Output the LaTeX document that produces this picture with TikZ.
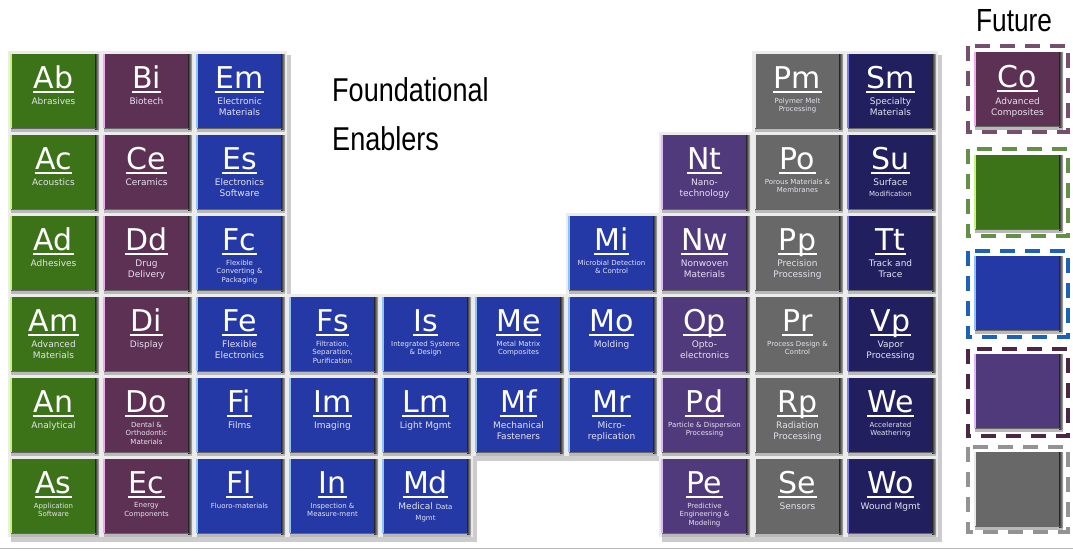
\documentclass[tikz,border=0pt]{standalone}
\usepackage{fontspec}
\usepackage{tikz}
\usetikzlibrary{calc}
\newfontfamily\tilefont{DejaVu Sans}
\newfontfamily\headfont{Liberation Sans}[FakeStretch=0.82]

\definecolor{grn}{HTML}{3D7318}  \definecolor{grnL}{HTML}{C8F27E}
\definecolor{mar}{HTML}{5D3154}  \definecolor{marL}{HTML}{F2A8EC}
\definecolor{blu}{HTML}{2439A6}  \definecolor{bluL}{HTML}{8CC4F6}
\definecolor{vio}{HTML}{503A7C}  \definecolor{vioL}{HTML}{DCB8F6}
\definecolor{gry}{HTML}{686868}  \definecolor{gryL}{HTML}{E8E8E8}
\definecolor{nav}{HTML}{211F5E}  \definecolor{navL}{HTML}{7C7CE6}
\definecolor{subtxt}{HTML}{E4E2EE}

% underlined element symbol
\newcommand\ulsym[1]{\vtop{\hbox{\kern0.5pt\smash{#1}\kern0.5pt}\kern2.5pt\hrule height 2pt}}
% bevelled face: x, y, colour
\newcommand\face[3]{%
  \fill[gray!55] ({#1+1},{#2+3}) rectangle ({#1+89},{#2+79.5});
  \shade[left color=black!85,right color=gray!55] ({#1+85},{#2+2}) rectangle ({#1+89},{#2+77});
  \fill[#3] ({#1+2},{#2+2}) rectangle ({#1+85},{#2+76});
  \fill[#3L] (#1,{#2+2}) rectangle ({#1+2},{#2+76});
  \fill[black!60] ({#1+1},{#2+76}) rectangle ({#1+86},{#2+77});
}
% tile on the tray: x, y, colour, symbol, subtitle style, subtitle
\newcommand\elem[6]{%
  \fill[gray!40] ({#1+1},{#2+3}) rectangle ({#1+95},{#2+85});
  \fill[gray!15] ({#1-2},{#2-1}) rectangle ({#1+91},{#2+80});
  \face{#1}{#2}{#3}
  \node[symb] (#4) at ({#1+43.5},{#2+36}) {\ulsym{#4}};
  \node[#5] (#4-t) at ({#1+43.5},{#2+44}) {#6};
}

\begin{document}
\begin{tikzpicture}[x=1pt,y=-1pt,
  symb/.style={font=\tilefont\fontsize{30}{30}\selectfont, text=white, inner sep=0pt, anchor=base},
  sub/.style={font=\tilefont\fontsize{9}{11}\selectfont, text=subtxt, inner sep=0pt, anchor=north, align=center, yshift=-1.5pt},
  subs/.style={sub, font=\tilefont\fontsize{7}{8.5}\selectfont, yshift=0pt},
  head/.style={font=\headfont\fontsize{33}{33}\selectfont, inner sep=0pt, anchor=base west},
  futbox/.style={line width=4pt, dash pattern=on 15pt off 10pt}]
\useasboundingbox (0,0) rectangle (1073,550);

% column 1-3
\elem{10}{52}{grn}{Ab}{sub}{Abrasives}
\elem{10}{133}{grn}{Ac}{sub}{Acoustics}
\elem{10}{214}{grn}{Ad}{sub}{Adhesives}
\elem{10}{295}{grn}{Am}{sub}{Advanced\\Materials}
\elem{10}{376}{grn}{An}{sub}{Analytical}
\elem{10}{457}{grn}{As}{subs}{Application\\Software}
\elem{103}{52}{mar}{Bi}{sub}{Biotech}
\elem{103}{133}{mar}{Ce}{sub}{Ceramics}
\elem{103}{214}{mar}{Dd}{sub}{Drug\\Delivery}
\elem{103}{295}{mar}{Di}{sub}{Display}
\elem{103}{376}{mar}{Do}{subs}{Dental \&\\Orthodontic\\Materials}
\elem{103}{457}{mar}{Ec}{subs}{Energy\\Components}
\elem{196}{52}{blu}{Em}{sub}{Electronic\\Materials}
\elem{196}{133}{blu}{Es}{sub}{Electronics\\Software}
\elem{196}{214}{blu}{Fc}{subs}{Flexible\\Converting \&\\Packaging}
\elem{196}{295}{blu}{Fe}{sub}{Flexible\\Electronics}
\elem{196}{376}{blu}{Fi}{sub}{Films}
\elem{196}{457}{blu}{Fl}{subs}{Fluoro-materials}
% middle block
\elem{289}{295}{blu}{Fs}{subs}{Filtration,\\Separation,\\Purification}
\elem{289}{376}{blu}{Im}{sub}{Imaging}
\elem{289}{457}{blu}{In}{subs}{Inspection \&\\Measure-ment}
\elem{382}{295}{blu}{Is}{subs}{Integrated Systems\\\& Design}
\elem{382}{376}{blu}{Lm}{sub}{Light Mgmt}
\elem{382}{457}{blu}{Md}{sub}{Medical {\fontsize{7}{8.5}\selectfont Data}\\{\fontsize{7}{8.5}\selectfont Mgmt}}
\elem{475}{295}{blu}{Me}{subs}{Metal Matrix\\Composites}
\elem{475}{376}{blu}{Mf}{sub}{Mechanical\\Fasteners}
\elem{568}{214}{blu}{Mi}{subs}{Microbial Detection\\\& Control}
\elem{568}{295}{blu}{Mo}{sub}{Molding}
\elem{568}{376}{blu}{Mr}{sub}{Micro-\\replication}
% right block
\elem{661}{133}{vio}{Nt}{sub}{Nano-\\technology}
\elem{661}{214}{vio}{Nw}{sub}{Nonwoven\\Materials}
\elem{661}{295}{vio}{Op}{sub}{Opto-\\electronics}
\elem{661}{376}{vio}{Pd}{subs}{Particle \& Dispersion\\Processing}
\elem{661}{457}{vio}{Pe}{subs}{Predictive\\Engineering \&\\Modeling}
\elem{754}{52}{gry}{Pm}{subs}{Polymer Melt\\Processing}
\elem{754}{133}{gry}{Po}{subs}{Porous Materials \&\\Membranes}
\elem{754}{214}{gry}{Pp}{sub}{Precision\\Processing}
\elem{754}{295}{gry}{Pr}{subs}{Process Design \&\\Control}
\elem{754}{376}{gry}{Rp}{sub}{Radiation\\Processing}
\elem{754}{457}{gry}{Se}{sub}{Sensors}
\elem{847}{52}{nav}{Sm}{sub}{Specialty\\Materials}
\elem{847}{133}{nav}{Su}{sub}{Surface\\{\fontsize{7}{8.5}\selectfont Modification}}
\elem{847}{214}{nav}{Tt}{sub}{Track and\\Trace}
\elem{847}{295}{nav}{Vp}{sub}{Vapor\\Processing}
\elem{847}{376}{nav}{We}{subs}{Accelerated\\Weathering}
\elem{847}{457}{nav}{Wo}{sub}{Wound Mgmt}

% future column
\draw[futbox, color=mar!85!white] (968,46) rectangle (1068,132);
\face{974}{50}{mar}
\node[symb] (Co) at (1017.5,87) {\ulsym{Co}};
\node[sub] (Co-t) at (1017.5,96) {Advanced\\Composites};
\draw[futbox, color=grn!80!white] (968,149) rectangle (1068,236);
\face{974}{153}{grn}
\draw[futbox, color=blu!80!cyan] (968,251) rectangle (1068,337);
\face{974}{254}{blu}
\draw[futbox, color=mar!80!black] (968,349) rectangle (1068,436);
\face{974}{352}{vio}
\draw[futbox, color=gray!85] (968,447) rectangle (1068,532);
\face{974}{450}{gry}

% headings
\node[head] (fnd) at (332,101) {Foundational};
\node[head] (enb) at (332,150) {Enablers};
\node[head, font=\headfont\fontsize{32}{32}\selectfont] (fut) at (976,31) {Future};

\draw[gray!55, line width=1pt] (0,548) -- (1073,548);
\end{tikzpicture}
\end{document}
